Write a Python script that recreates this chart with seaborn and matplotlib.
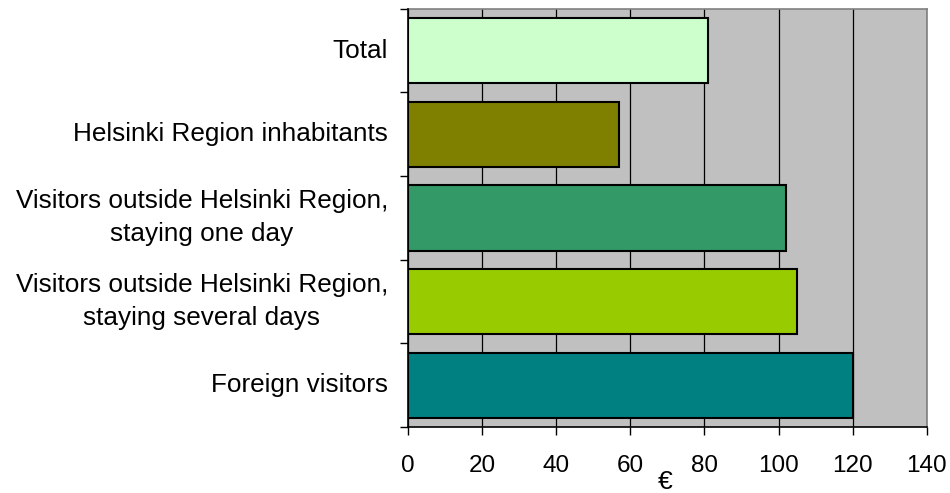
import matplotlib
matplotlib.use("Agg")
import matplotlib.pyplot as plt
import seaborn as sns
import pandas as pd

categories = ["Total", "Helsinki Region inhabitants",
              "Visitors outside Helsinki Region,\nstaying one day",
              "Visitors outside Helsinki Region,\nstaying several days",
              "Foreign visitors"]
values = [81, 57, 102, 105, 120]
colors = ["#CCFFCC", "#808000", "#339966", "#99CC00", "#008080"]
xticks = [0, 20, 40, 60, 80, 100, 120, 140]

sns.set_theme(style="white")
plt.rcParams['font.family'] = ['Liberation Sans', 'DejaVu Sans']
plt.rcParams['text.color'] = 'black'
plt.rcParams['xtick.color'] = 'black'
plt.rcParams['ytick.color'] = 'black'

df = pd.DataFrame({"cat": categories, "val": values})
fig = plt.figure(figsize=(9.5, 4.93), dpi=100)
ax = fig.add_axes([0.4295, 0.134, 0.546, 0.848])
ax.set_facecolor("#C0C0C0")
sns.barplot(data=df, x="val", y="cat", hue="cat", palette=colors, legend=False,
            saturation=1, orient="h", width=0.78, edgecolor="black", linewidth=1.5,
            ax=ax, zorder=3)
ax.set_xlim(0, 140)
ax.set_ylim(4.5, -0.5)
ax.set_xticks(xticks)
ax.set_xticklabels([str(t) for t in xticks], fontsize=17.5)
ax.set_yticks([i - 0.5 for i in range(6)])
ax.set_yticklabels([])
for i, c in enumerate(categories):
    ax.annotate(c, xy=(0, i), xycoords=("axes fraction", "data"),
                xytext=(-14.5, 0), textcoords="offset points",
                ha="right", va="center", fontsize=18.8, color="black",
                multialignment="center", linespacing=1.47)
ax.grid(axis="x", color="black", linewidth=0.9, zorder=0)
ax.set_axisbelow(True)
ax.tick_params(axis="both", direction="out", length=6, width=1, color="black",
               bottom=True, left=True)
ax.tick_params(axis="x", pad=14)
for s in ["left", "bottom"]:
    ax.spines[s].set_color("black")
    ax.spines[s].set_linewidth(1.2)
    ax.spines[s].set_zorder(5)
for s in ["right", "top"]:
    ax.spines[s].set_color("#808080")
    ax.spines[s].set_linewidth(1.2)
ax.set_ylabel("")
ax.set_xlabel("")
fig.text(665 / 950, 1 - 482 / 493, "€", fontsize=19, ha="center", va="center", color="black")
fig.savefig("out.png", dpi=100)
